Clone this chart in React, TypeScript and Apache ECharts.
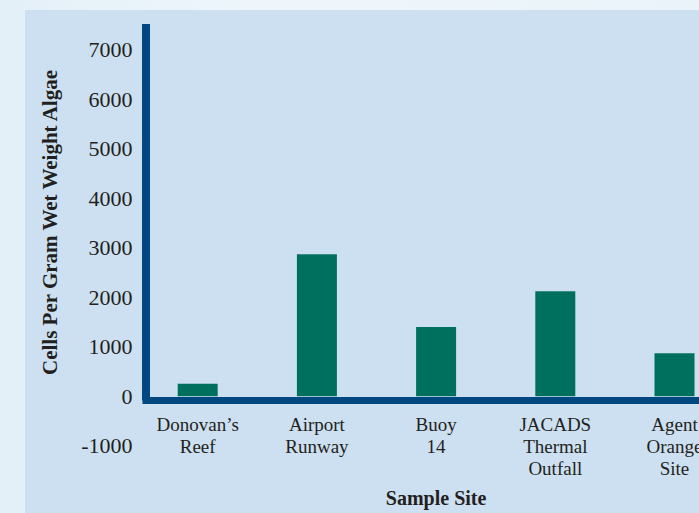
import React, { useEffect, useRef } from "react";
import * as echarts from "echarts";

const categories = [
  "Donovan\u2019s\nReef",
  "Airport\nRunway",
  "Buoy\n14",
  "JACADS\nThermal\nOutfall",
  "Agent\nOrange\nSite",
];
const cellCounts = [250, 2870, 1400, 2120, 870];
const yMin = -1000;
const yMax = 7000;
const yStep = 1000;
const yTitle = "Cells Per Gram Wet Weight Algae";
const xTitle = "Sample Site";

const FONT = "'Liberation Serif', 'Times New Roman', serif";
const TEXT = "#231f20";
const AXIS = "#00487f";
const BAR = "#00705e";

export default function App() {
  const ref = useRef<HTMLDivElement>(null);

  useEffect(() => {
    if (!ref.current) return;
    const chart = echarts.init(ref.current, undefined, { renderer: "svg" });
    chart.setOption({
      animation: false,
      backgroundColor: "transparent",
      grid: [
        { left: 138.1, right: -35.1, top: 49.7, height: 396, containLabel: false, outerBoundsMode: "none" },
        { left: 146, right: -40, top: 24, height: 376.5, containLabel: false, outerBoundsMode: "none" },
      ],
      xAxis: [
        {
          type: "category",
          gridIndex: 0,
          data: categories,
          position: "bottom",
          offset: -49.5,
          axisLine: { show: false, onZero: false },
          axisTick: { show: false },
          axisLabel: {
            margin: 17,
            fontFamily: FONT,
            fontSize: 19,
            lineHeight: 22,
            color: TEXT,
            interval: 0,
            align: "center",
          },
          name: xTitle,
          nameLocation: "middle",
          nameGap: 92,
          nameTextStyle: {
            fontFamily: FONT,
            fontSize: 20,
            fontWeight: "bold",
            color: TEXT,
            verticalAlign: "top",
          },
        },
        {
          type: "value",
          gridIndex: 1,
          min: 0,
          max: 1,
          axisLine: {
            show: true,
            onZero: false,
            lineStyle: { color: AXIS, width: 7, cap: "square" },
          },
          axisTick: { show: false },
          axisLabel: { show: false },
          splitLine: { show: false },
        },
      ],
      yAxis: [
        {
          type: "value",
          gridIndex: 0,
          min: yMin,
          max: yMax,
          interval: yStep,
          axisLine: { show: false },
          axisTick: { show: false },
          splitLine: { show: false },
          axisLabel: {
            margin: 5.6,
            fontFamily: FONT,
            fontSize: 22,
            color: TEXT,
            formatter: (v: number) => String(v),
          },
        },
        {
          type: "value",
          gridIndex: 1,
          min: 0,
          max: 1,
          axisLine: {
            show: true,
            onZero: false,
            lineStyle: { color: AXIS, width: 8, cap: "butt" },
          },
          axisTick: { show: false },
          axisLabel: { show: false },
          splitLine: { show: false },
        },
      ],
      graphic: [
        {
          type: "text",
          x: 50,
          y: 222.5,
          rotation: Math.PI / 2,
          style: {
            text: yTitle,
            fontFamily: FONT,
            fontSize: 21,
            fontWeight: "bold",
            fill: TEXT,
            textAlign: "center",
            textVerticalAlign: "middle",
          },
        },
      ],
      series: [
        {
          type: "bar",
          xAxisIndex: 0,
          yAxisIndex: 0,
          data: cellCounts,
          barWidth: 40,
          itemStyle: { color: BAR },
        },
      ],
    });
    return () => chart.dispose();
  }, []);

  return (
    <div
      style={{
        position: "fixed",
        left: 0,
        top: 0,
        width: 699,
        height: 513,
        overflow: "hidden",
        background: "linear-gradient(90deg, #e4f0f8 0%, #eef6fb 40%, #eaf3f9 100%)",
      }}
    >
      <div
        style={{
          position: "absolute",
          left: 25,
          top: 10,
          right: 0,
          bottom: 0,
          background: "#cde0f1",
        }}
      />
      <div ref={ref} style={{ position: "absolute", left: 0, top: 0, width: 699, height: 513 }} />
    </div>
  );
}
